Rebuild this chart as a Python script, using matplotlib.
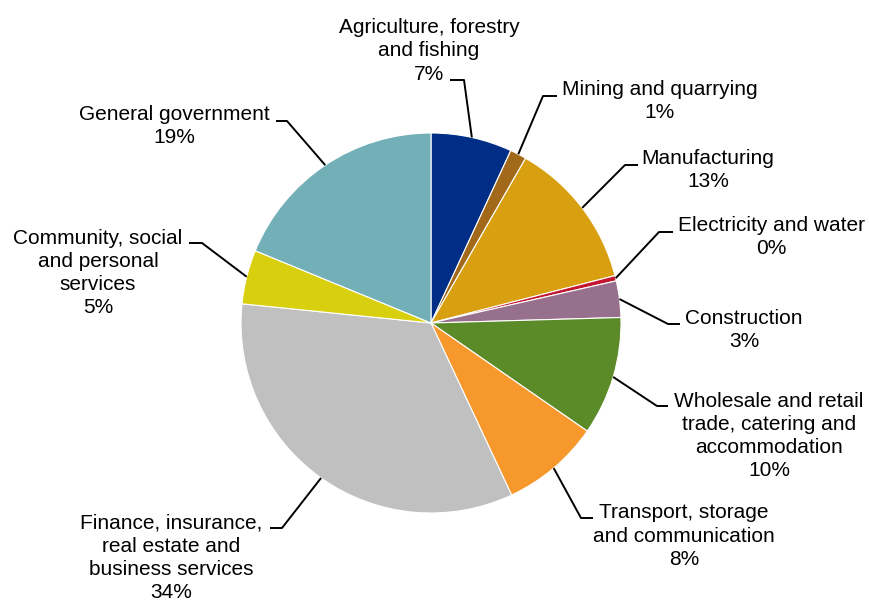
import numpy as np
import matplotlib
matplotlib.use("Agg")
import matplotlib.pyplot as plt

plt.rcParams['font.family'] = ['Liberation Sans', 'DejaVu Sans']

# share of output by sector (%)
sectors = [
    "Agriculture, forestry\nand fishing",
    "Mining and quarrying",
    "Manufacturing",
    "Electricity and water",
    "Construction",
    "Wholesale and retail\ntrade, catering and\naccommodation",
    "Transport, storage\nand communication",
    "Finance, insurance,\nreal estate and\nbusiness services",
    "Community, social\nand personal\nservices",
    "General government",
]
shares = [6.9, 1.4, 12.7, 0.45, 3.1, 10.1, 8.4, 33.6, 4.6, 18.8]
colors = ["#002D86", "#A2691A", "#D8A011", "#C3162F", "#96708C",
          "#5B8A29", "#F7982C", "#C0C0C0", "#D8D00E", "#72AFB6"]

W, H = 869, 601
CX, CY, R = 431, 323, 190

# label layout in pixel coords (y down): text centre, elbow, end of leader
layout = [
    ((429, 51), (464, 80), (450, 80)),
    ((660, 101), (543, 96), (557, 96)),
    ((708, 170), (625, 165), (638, 165)),
    ((771, 237), (659, 232), (673, 232)),
    ((744, 330), (668, 324), (680, 324)),
    ((769, 436), (657, 406), (668, 406)),
    ((684, 536), (581, 518), (593, 518)),
    ((171, 558), (282, 528), (270, 528)),
    ((98, 273), (202, 243), (189, 243)),
    ((174, 126), (287, 121), (276, 121)),
]

fig = plt.figure(figsize=(W / 100, H / 100), dpi=100)
ax = fig.add_axes([0, 0, 1, 1])
ax.set_xlim(0, W)
ax.set_ylim(0, H)
ax.set_aspect("equal")
ax.axis("off")

wedges, _ = ax.pie(shares, colors=colors, startangle=90, counterclock=False,
                   center=(CX, H - CY), radius=R,
                   wedgeprops=dict(edgecolor="white", linewidth=0.8))
ax.set_xlim(0, W)
ax.set_ylim(0, H)

for w, name, val, (txt, elbow, end) in zip(wedges, sectors, shares, layout):
    mid = np.deg2rad((w.theta1 + w.theta2) / 2)
    sx = CX + R * np.cos(mid)
    sy = (H - CY) + R * np.sin(mid)
    ax.plot([sx, elbow[0], end[0]], [sy, H - elbow[1], H - end[1]],
            color="black", lw=1.4, solid_capstyle="butt")
    ax.text(txt[0], H - txt[1], f"{name}\n{round(val):.0f}%", ha="center",
            va="center", multialignment="center", fontsize=15,
            linespacing=1.27, color="black")

fig.savefig("out.png", dpi=100)
